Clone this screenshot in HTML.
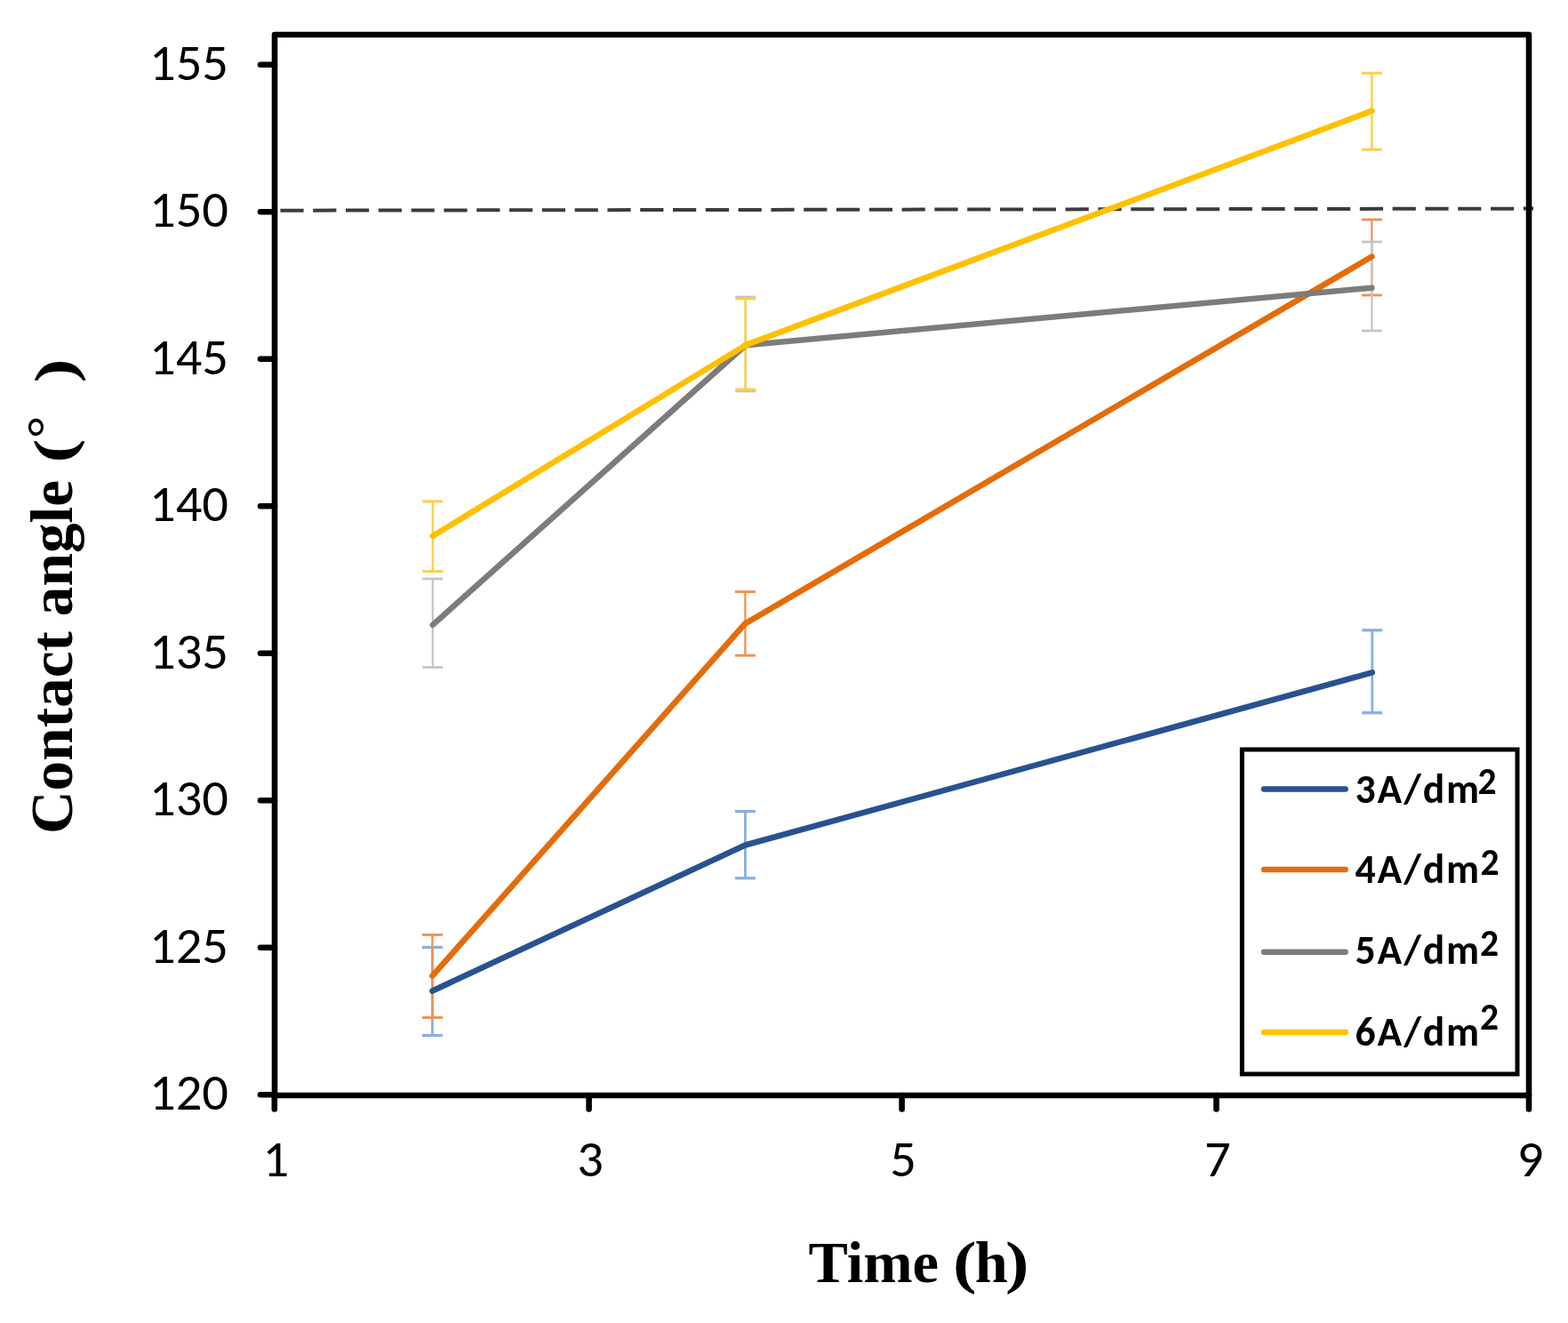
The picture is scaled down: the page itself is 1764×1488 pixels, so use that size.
<!DOCTYPE html>
<html><head><meta charset="utf-8"><title>Contact angle vs time</title><style>html,body{margin:0;padding:0;background:#fff;width:1764px;height:1488px;overflow:hidden}svg{display:block}</style></head><body>
<svg width="1764" height="1488" viewBox="0 0 1764 1488">
<rect width="1764" height="1488" fill="#fff"/>
<line x1="315.4" y1="236.7" x2="1725" y2="234.6" stroke="#3c3c3c" stroke-width="4" stroke-dasharray="26.2 10.6"/>
<g stroke="#8AB0E3" stroke-width="3.3"><line x1="486.4" y1="1065.5" x2="486.4" y2="1164.6" stroke-width="2.8"/><line x1="474.9" y1="1065.5" x2="497.9" y2="1065.5"/><line x1="474.9" y1="1164.6" x2="497.9" y2="1164.6"/><line x1="838.4" y1="912.6" x2="838.4" y2="987.7" stroke-width="2.8"/><line x1="826.9" y1="912.6" x2="849.9" y2="912.6"/><line x1="826.9" y1="987.7" x2="849.9" y2="987.7"/><line x1="1543.7" y1="708.8" x2="1543.7" y2="801.7" stroke-width="2.8"/><line x1="1532.2" y1="708.8" x2="1555.2" y2="708.8"/><line x1="1532.2" y1="801.7" x2="1555.2" y2="801.7"/></g>
<g stroke="#F09350" stroke-width="2.9"><line x1="486.4" y1="1051.4" x2="486.4" y2="1144.5" stroke-width="2.3"/><line x1="474.9" y1="1051.4" x2="497.9" y2="1051.4"/><line x1="474.9" y1="1144.5" x2="497.9" y2="1144.5"/><line x1="838.4" y1="665.6" x2="838.4" y2="737.2" stroke-width="2.3"/><line x1="826.9" y1="665.6" x2="849.9" y2="665.6"/><line x1="826.9" y1="737.2" x2="849.9" y2="737.2"/><line x1="1543.3" y1="247" x2="1543.3" y2="332" stroke-width="2.3"/><line x1="1531.8" y1="247" x2="1554.8" y2="247"/><line x1="1531.8" y1="332" x2="1554.8" y2="332"/></g>
<g stroke="#C4C4C4" stroke-width="2.7"><line x1="486.8" y1="651" x2="486.8" y2="750.5" stroke-width="2.2"/><line x1="475.3" y1="651" x2="498.3" y2="651"/><line x1="475.3" y1="750.5" x2="498.3" y2="750.5"/><line x1="838.7" y1="334" x2="838.7" y2="440" stroke-width="2.2"/><line x1="827.2" y1="334" x2="850.2" y2="334"/><line x1="827.2" y1="440" x2="850.2" y2="440"/><line x1="1543.3" y1="272" x2="1543.3" y2="372" stroke-width="2.2"/><line x1="1531.8" y1="272" x2="1554.8" y2="272"/><line x1="1531.8" y1="372" x2="1554.8" y2="372"/></g>
<g stroke="#FDCF4A" stroke-width="3.0"><line x1="486.8" y1="563.9" x2="486.8" y2="642.7" stroke-width="2.5"/><line x1="475.3" y1="563.9" x2="498.3" y2="563.9"/><line x1="475.3" y1="642.7" x2="498.3" y2="642.7"/><line x1="838.7" y1="336" x2="838.7" y2="438" stroke-width="2.5"/><line x1="827.2" y1="336" x2="850.2" y2="336"/><line x1="827.2" y1="438" x2="850.2" y2="438"/><line x1="1543.3" y1="82.2" x2="1543.3" y2="168.2" stroke-width="2.5"/><line x1="1531.8" y1="82.2" x2="1554.8" y2="82.2"/><line x1="1531.8" y1="168.2" x2="1554.8" y2="168.2"/></g>
<polyline points="486.4,1114.5 838.4,950.5 1543.7,756.4" fill="none" stroke="#285290" stroke-width="6.6" stroke-linejoin="round" stroke-linecap="round"/>
<polyline points="486.4,1097.6 838.4,701.3 1543.3,288.7" fill="none" stroke="#E46C0A" stroke-width="6.6" stroke-linejoin="round" stroke-linecap="round"/>
<polyline points="486.8,702.9 838.7,388.2 1543.3,323.7" fill="none" stroke="#7C7C7C" stroke-width="6.6" stroke-linejoin="round" stroke-linecap="round"/>
<polyline points="486.8,602.9 838.7,388.2 1543.3,124.7" fill="none" stroke="#FFC000" stroke-width="6.6" stroke-linejoin="round" stroke-linecap="round"/>
<rect x="309.0" y="39.0" width="1411.0" height="1193.0" fill="none" stroke="#000" stroke-width="6.6" stroke-linejoin="round"/>
<g stroke="#000" stroke-width="6.6" stroke-linecap="round"><line x1="293" y1="1231.3" x2="309.0" y2="1231.3"/><line x1="293" y1="1065.8" x2="309.0" y2="1065.8"/><line x1="293" y1="900.3" x2="309.0" y2="900.3"/><line x1="293" y1="734.7" x2="309.0" y2="734.7"/><line x1="293" y1="569.2" x2="309.0" y2="569.2"/><line x1="293" y1="403.7" x2="309.0" y2="403.7"/><line x1="293" y1="238.2" x2="309.0" y2="238.2"/><line x1="293" y1="72.7" x2="309.0" y2="72.7"/><line x1="308.8" y1="1232.0" x2="308.8" y2="1247.5"/><line x1="662.6" y1="1232.0" x2="662.6" y2="1247.5"/><line x1="1014.6" y1="1232.0" x2="1014.6" y2="1247.5"/><line x1="1368.4" y1="1232.0" x2="1368.4" y2="1247.5"/><line x1="1720.0" y1="1232.0" x2="1720.0" y2="1247.5"/></g>
<g font-family="Carlito, Calibri, 'Liberation Sans', sans-serif" font-size="58.5" fill="#000"><text x="257" y="1248.3" text-anchor="end">120</text><text x="257" y="1082.8" text-anchor="end">125</text><text x="257" y="917.3" text-anchor="end">130</text><text x="257" y="751.7" text-anchor="end">135</text><text x="257" y="586.2" text-anchor="end">140</text><text x="257" y="420.7" text-anchor="end">145</text><text x="257" y="255.2" text-anchor="end">150</text><text x="257" y="89.7" text-anchor="end">155</text><text x="310.3" y="1323" text-anchor="middle">1</text><text x="664.1" y="1323" text-anchor="middle">3</text><text x="1016.1" y="1323" text-anchor="middle">5</text><text x="1369.9" y="1323" text-anchor="middle">7</text><text x="1721.5" y="1323" text-anchor="middle">9</text></g>
<text y="1442" font-family="'Liberation Serif', 'Times New Roman', serif" font-weight="bold" font-size="66.5" fill="#000"><tspan x="909.6">Time </tspan><tspan x="1072.1" textLength="26.57" lengthAdjust="spacingAndGlyphs">(</tspan><tspan x="1096.8">h</tspan><tspan x="1131" textLength="26.57" lengthAdjust="spacingAndGlyphs">)</tspan></text>
<text font-family="'Liberation Serif', 'Times New Roman', serif" font-weight="bold" font-size="67.3" fill="#000" transform="translate(81.3 938.0) rotate(-90)"><tspan x="0" y="0">Contact angle </tspan><tspan x="417.6" y="1" font-size="63.26" textLength="26.89" lengthAdjust="spacingAndGlyphs">(</tspan><tspan x="444.8" y="-11.8" font-size="56" textLength="25.75" lengthAdjust="spacingAndGlyphs">°</tspan><tspan x="507.8" y="1.5" font-size="63.26" textLength="26.89" lengthAdjust="spacingAndGlyphs">)</tspan></text>
<rect x="1397.3" y="843" width="309.7" height="365" fill="#fff" stroke="#000" stroke-width="5"/>
<line x1="1422" y1="887.5" x2="1513.6" y2="887.5" stroke="#285290" stroke-width="6.5" stroke-linecap="round"/>
<text x="1524.5" y="902.5" font-family="Carlito, Calibri, 'Liberation Sans', sans-serif" font-weight="bold" font-size="45.5" letter-spacing="2" fill="#000">3A/dm<tspan x="1662.6" y="893.1" font-size="41.5" letter-spacing="0">2</tspan></text>
<line x1="1422" y1="978.0" x2="1513.6" y2="978.0" stroke="#E46C0A" stroke-width="6.5" stroke-linecap="round"/>
<text x="1524.5" y="992.6" font-family="Carlito, Calibri, 'Liberation Sans', sans-serif" font-weight="bold" font-size="45.5" letter-spacing="2" fill="#000">4A/dm<tspan x="1665.4" y="984.1" font-size="41.5" letter-spacing="0">2</tspan></text>
<line x1="1422" y1="1070.7" x2="1513.6" y2="1070.7" stroke="#7C7C7C" stroke-width="6.5" stroke-linecap="round"/>
<text x="1524.5" y="1084.2" font-family="Carlito, Calibri, 'Liberation Sans', sans-serif" font-weight="bold" font-size="45.5" letter-spacing="2" fill="#000">5A/dm<tspan x="1665.1" y="1074.7" font-size="41.5" letter-spacing="0">2</tspan></text>
<line x1="1422" y1="1161.0" x2="1513.6" y2="1161.0" stroke="#FFC000" stroke-width="6.5" stroke-linecap="round"/>
<text x="1524.5" y="1175.9" font-family="Carlito, Calibri, 'Liberation Sans', sans-serif" font-weight="bold" font-size="45.5" letter-spacing="2" fill="#000">6A/dm<tspan x="1665.0" y="1158.1" font-size="41.5" letter-spacing="0">2</tspan></text>
</svg></body></html>
